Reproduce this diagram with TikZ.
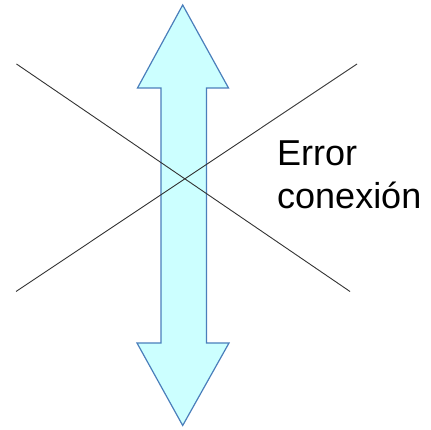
\documentclass[tikz,border=0pt]{standalone}
\usepackage{fontspec}
\setmainfont{Liberation Sans}
\definecolor{arrowfill}{HTML}{CCFFFF}
\definecolor{arrowline}{HTML}{4A7EBB}
\definecolor{crossline}{HTML}{333333}
\begin{document}
\begin{tikzpicture}[x=1pt,y=1pt,
  arrowshape/.style={fill=arrowfill,draw=arrowline,line width=1.2pt,line join=miter},
  crossstyle/.style={draw=crossline,line width=0.9pt},
  labelstyle/.style={inner sep=0pt,anchor=base west,align=left,font=\fontsize{36}{43}\selectfont}]
\useasboundingbox (0,0) rectangle (431,430);
% coordinates (y flipped: tikz y = 430 - pixel y)
\coordinate (c1s) at (16.5,366);
\coordinate (c1e) at (350,138.5);
\coordinate (c2s) at (16,138.5);
\coordinate (c2e) at (357,366);
\draw[arrowshape] (182.7,425) -- (228.5,342) -- (206.5,342) -- (206.5,87) -- (229,87)
  -- (182.7,4.5) -- (137,87) -- (161,87) -- (161,342) -- (137.5,342) -- cycle;
\draw[crossstyle] (c1s) -- (c1e);
\draw[crossstyle] (c2s) -- (c2e);
\node[labelstyle] (lbl) at (277,221) {Error\\conexión};
\end{tikzpicture}
\end{document}
